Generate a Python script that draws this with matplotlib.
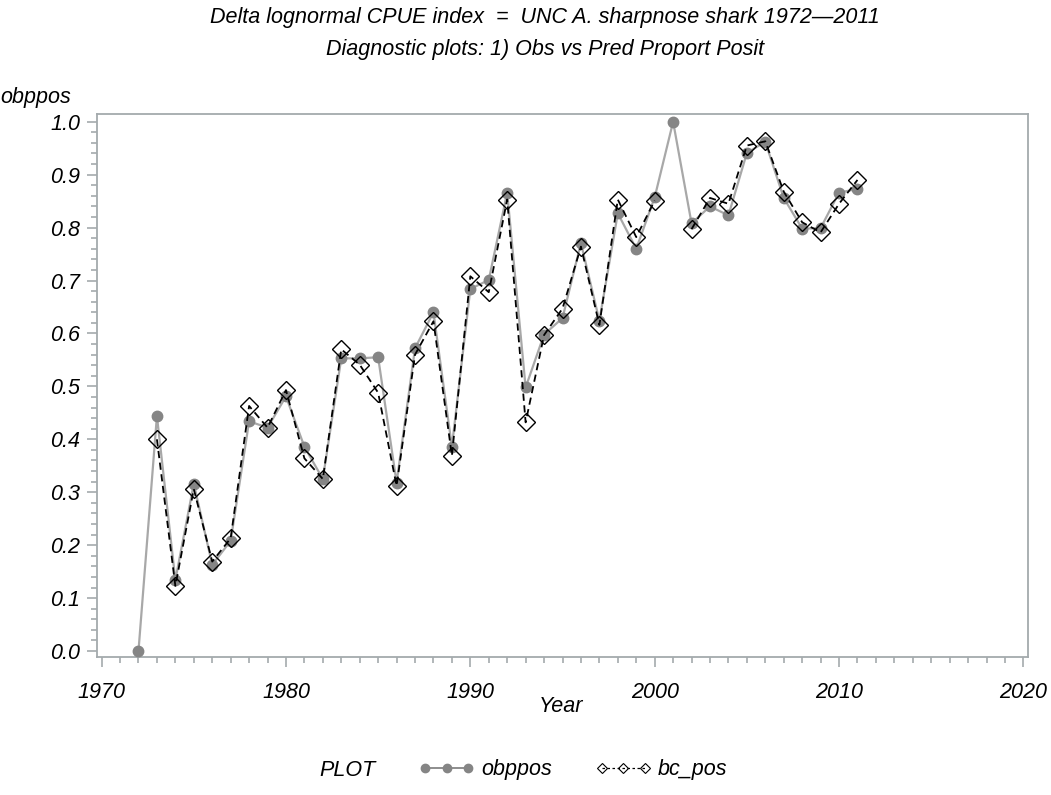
"""Obs vs predicted proportion positive, delta lognormal CPUE diagnostics."""

import numpy as np
import matplotlib

matplotlib.use("Agg")
import matplotlib.pyplot as plt
from matplotlib.lines import Line2D
from matplotlib.ticker import FormatStrFormatter, MultipleLocator

years = list(range(1972, 2012))
obppos = [
    0.000, 0.444, 0.134, 0.316, 0.163, 0.208, 0.434, 0.422, 0.481, 0.386,
    0.325, 0.553, 0.553, 0.555, 0.318, 0.572, 0.640, 0.386, 0.684, 0.701,
    0.866, 0.498, 0.598, 0.629, 0.771, 0.624, 0.827, 0.760, 0.857, 1.000,
    0.808, 0.840, 0.823, 0.941, 0.962, 0.856, 0.798, 0.799, 0.866, 0.873,
]
bc_pos = [
    np.nan, 0.400, 0.123, 0.306, 0.169, 0.213, 0.463, 0.422, 0.493, 0.364,
    0.325, 0.570, 0.541, 0.488, 0.312, 0.560, 0.623, 0.369, 0.708, 0.678,
    0.853, 0.432, 0.597, 0.647, 0.764, 0.616, 0.853, 0.782, 0.851, np.nan,
    0.797, 0.856, 0.845, 0.955, 0.963, 0.868, 0.810, 0.791, 0.845, 0.890,
]

FONT = {"family": "Liberation Sans", "style": "italic", "size": 15.5}
GREY = "#858585"
AXCOL = "#a4aaad"

fig = plt.figure(figsize=(10.51, 7.95), dpi=100)
ax = fig.add_axes([97 / 1051, 1 - 657 / 795, (1028 - 97) / 1051, (657 - 114) / 795])

ax.plot(years, obppos, color="#a8a8a8", linewidth=1.6, zorder=2)
ax.plot(years, obppos, linestyle="none", marker="o", markersize=7.5,
        markerfacecolor=GREY, markeredgecolor=GREY, zorder=3)
ax.plot(years, bc_pos, color="black", linewidth=1.3, linestyle=(0, (4, 2.5)),
        marker="D", markersize=9, markerfacecolor="none",
        markeredgecolor="black", markeredgewidth=1.0, zorder=4)

ax.set_xlim(1969.75, 2020.25)
ax.set_ylim(-0.0113, 1.0146)
ax.xaxis.set_major_locator(MultipleLocator(10))
ax.xaxis.set_minor_locator(MultipleLocator(1))
ax.yaxis.set_major_locator(MultipleLocator(0.1))
ax.yaxis.set_minor_locator(MultipleLocator(0.02))
ax.yaxis.set_major_formatter(FormatStrFormatter("%.1f"))

for s in ax.spines.values():
    s.set_color(AXCOL)
    s.set_linewidth(1.3)
ax.tick_params(which="both", direction="out", color=AXCOL, width=1.2)
ax.tick_params(which="major", length=7, pad=5)
ax.tick_params(which="minor", length=4)
for lab in ax.get_xticklabels() + ax.get_yticklabels():
    lab.set_fontfamily(FONT["family"])
    lab.set_fontstyle("italic")
    lab.set_fontsize(FONT["size"])
ax.tick_params(axis="x", pad=11)

fig.text(545 / 1051, 1 - 18 / 795,
         "Delta lognormal CPUE index  =  UNC A. sharpnose shark 1972\u20142011",
         ha="center", va="center", **FONT)
fig.text(545 / 1051, 1 - 50 / 795, "Diagnostic plots: 1) Obs vs Pred Proport Posit",
         ha="center", va="center", **FONT)
fig.text(36 / 1051, 1 - 97 / 795, "obppos", ha="center", va="center", **FONT)
fig.text(561 / 1051, 1 - 706 / 795, "Year", ha="center", va="center", **FONT)
fig.text(347 / 1051, 1 - 770 / 795, "PLOT", ha="center", va="center", **FONT)

handles = [
    Line2D([], [], color=GREY, linewidth=1.3, marker="o", markersize=6,
           markerfacecolor=GREY, markeredgecolor=GREY),
    Line2D([], [], color="black", linewidth=0.9, linestyle=(0, (2, 2)), marker="D",
           markersize=5, markerfacecolor="none", markeredgecolor="black",
           markeredgewidth=0.8),
]
fig.legend(handles, ["obppos", "bc_pos"], loc="center", ncol=2,
           bbox_to_anchor=(573 / 1051, 1 - 770 / 795), frameon=False,
           numpoints=3, handlelength=2.6, handletextpad=0.3, columnspacing=2.0,
           prop={"family": "Liberation Sans", "style": "italic", "size": 15.5})

fig.savefig("out.png", dpi=100)
